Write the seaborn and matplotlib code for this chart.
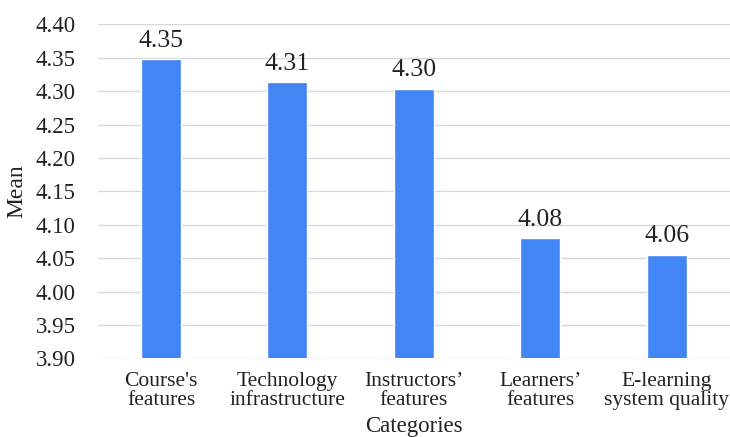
import matplotlib
matplotlib.use("Agg")
import matplotlib.pyplot as plt
import seaborn as sns
import pandas as pd

categories = ["Course's\nfeatures", "Technology\ninfrastructure", "Instructors’\nfeatures",
              "Learners’\nfeatures", "E-learning\nsystem quality"]
means = [4.348, 4.314, 4.304, 4.080, 4.055]
value_labels = ["4.35", "4.31", "4.30", "4.08", "4.06"]
yticks = [3.90, 3.95, 4.00, 4.05, 4.10, 4.15, 4.20, 4.25, 4.30, 4.35, 4.40]

sns.set_theme(style="white")
plt.rcParams['font.family'] = ['Liberation Serif', 'DejaVu Serif']

df = pd.DataFrame({"Categories": categories, "Mean": means})

fig = plt.figure(figsize=(7.30, 4.37), dpi=100)
ax = fig.add_axes([0.134, 0.180, 0.866, 0.764])
sns.barplot(data=df, x="Categories", y="Mean", color="#4285F4", saturation=1,
            width=0.316, ax=ax, zorder=3)

ax.set_ylim(3.90, 4.40)
ax.set_yticks(yticks)
ax.set_yticklabels([f"{t:.2f}" for t in yticks], fontsize=16.5, color='#222222')
ax.tick_params(axis='x', labelsize=15.5, pad=10, length=0, labelcolor='#222222')
for lab in ax.get_xticklabels():
    lab.set_linespacing(0.95)
ax.tick_params(axis='y', pad=16, length=0)
ax.grid(axis='y', color='#d9d9d9', linewidth=1, zorder=0)
for s in ax.spines.values():
    s.set_visible(False)

for i, (v, lab) in enumerate(zip(means, value_labels)):
    ax.text(i, v + 0.011, lab, ha='center', va='bottom', fontsize=18.5, color='#222222')

ax.set_xlabel("Categories", fontsize=16.5, color='#222222')
ax.xaxis.set_label_coords(0.5, -0.172)
ax.set_ylabel("Mean", fontsize=17, labelpad=6, color='#222222')

fig.savefig("out.png", dpi=100)
